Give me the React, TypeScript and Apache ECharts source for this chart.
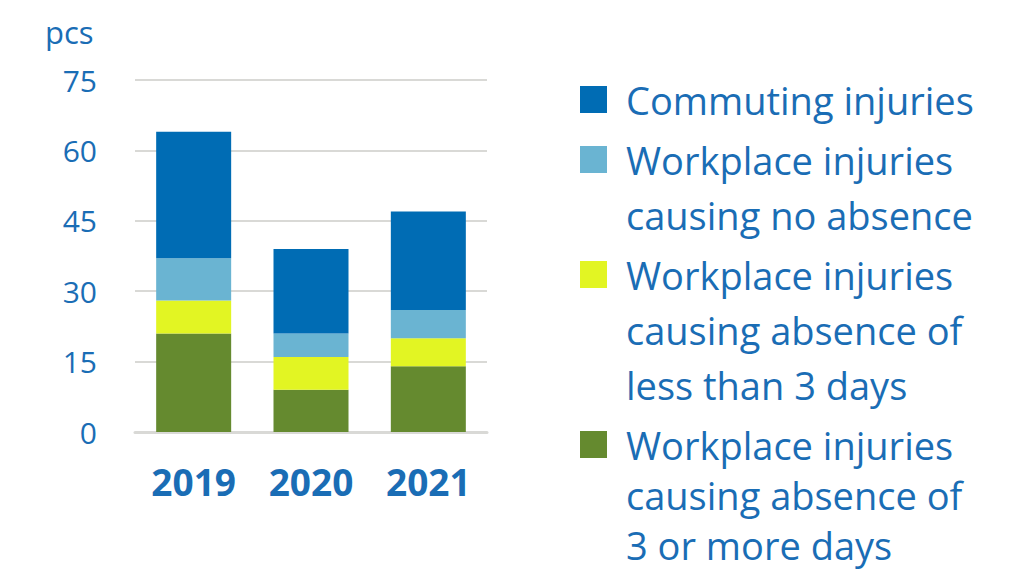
import React, { useEffect, useRef } from "react";
import * as echarts from "echarts";

const categories = ["2019", "2020", "2021"];
const yTicks = { min: 0, max: 75, interval: 15 };
const seriesNames = [
  "Workplace injuries\ncausing absence of\n3 or more days",
  "Workplace injuries\ncausing absence of\nless than 3 days",
  "Workplace injuries\ncausing no absence",
  "Commuting injuries",
];
const threeOrMoreDays = [21, 9, 14];
const lessThanThreeDays = [7, 7, 6];
const noAbsence = [9, 5, 6];
const commuting = [27, 18, 21];
const seriesColors = ["#658a2f", "#e2f523", "#6ab4d2", "#006cb4"];

const TEXT_BLUE = "#1a6db5";
const FONT = "'Open Sans', sans-serif";

export default function App() {
  const ref = useRef<HTMLDivElement>(null);

  useEffect(() => {
    if (!ref.current) return;
    const chart = echarts.init(ref.current, undefined, { renderer: "svg" });
    const values = [threeOrMoreDays, lessThanThreeDays, noAbsence, commuting];

    // legend (top to bottom: reverse of stacking order)
    const legendOrder = [3, 2, 1, 0];
    const lineHeights = [55, 55, 55, 50];
    const itemGap = 5;
    let cy = 99.5;
    const legendGraphics: any[] = [];
    legendOrder.forEach((idx, k) => {
      const name = seriesNames[idx];
      const nLines = name.split("\n").length;
      const lh = lineHeights[k];
      legendGraphics.push({
        type: "rect",
        shape: { x: 580, y: cy - 13.5, width: 27, height: 27 },
        style: { fill: seriesColors[idx] },
      });
      legendGraphics.push({
        type: "text",
        x: 626,
        y: cy - lh / 2,
        style: {
          text: name,
          fill: TEXT_BLUE,
          font: `38px ${FONT}`,
          lineHeight: lh,
          verticalAlign: "top",
          align: "left",
        },
      });
      cy += nLines * lh + itemGap;
    });

    chart.setOption({
      animation: false,
      title: {
        text: "pcs",
        left: 40,
        top: 11,
        textStyle: { color: TEXT_BLUE, fontFamily: FONT, fontWeight: "normal", fontSize: 31 },
      },
      grid: { left: 135, right: 544, top: 80, bottom: 140, containLabel: false },
      xAxis: {
        type: "category",
        data: categories,
        axisLine: { lineStyle: { color: "#d9d9d6", width: 3 } },
        axisTick: { show: false },
        axisLabel: {
          color: TEXT_BLUE,
          fontFamily: FONT,
          fontWeight: "bold",
          fontSize: 37,
          margin: 31,
        },
      },
      yAxis: {
        type: "value",
        min: yTicks.min,
        max: yTicks.max,
        interval: yTicks.interval,
        axisLine: { show: false },
        axisTick: { show: false },
        splitLine: { lineStyle: { color: "#d9d9d6", width: 2 } },
        axisLabel: {
          color: TEXT_BLUE,
          fontFamily: FONT,
          fontSize: 30,
          margin: 38,
        },
      },
      series: values.map((v, i) => ({
        name: seriesNames[i],
        type: "bar",
        stack: "total",
        data: v,
        barWidth: 75,
        itemStyle: { color: seriesColors[i] },
      })),
      graphic: legendGraphics,
    });
    return () => chart.dispose();
  }, []);

  return (
    <div
      ref={ref}
      style={{ position: "fixed", left: 0, top: 0, width: 1031, height: 572, background: "#fff" }}
    />
  );
}
